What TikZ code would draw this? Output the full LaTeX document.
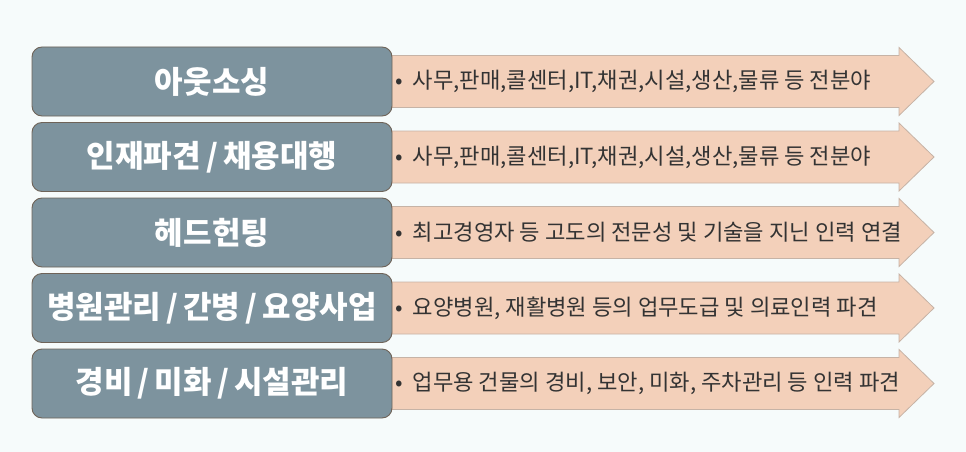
\documentclass[tikz,border=0pt]{standalone}
\usepackage{fontspec}
\newfontfamily\kr{Noto Sans CJK KR}
\definecolor{bgc}{HTML}{F6FBFB}
\definecolor{boxc}{HTML}{7D939E}
\definecolor{boxline}{HTML}{6E6358}
\definecolor{arrc}{HTML}{F3D0BA}
\definecolor{arrline}{HTML}{C6B3A6}
\definecolor{txtc}{HTML}{333333}
\tikzset{
  catbox/.style={draw=boxline, line width=0.9pt, fill=boxc, rounded corners=10pt,
    minimum width=360pt, minimum height=69pt, inner sep=0pt, text=white,
    font=\kr\bfseries\fontsize{31}{34}\selectfont},
  arrowshape/.style={fill=arrc, draw=arrline, line width=0.8pt},
  desc/.style={anchor=west, inner sep=0pt, text=txtc, font=\kr\fontsize{22.2}{24}\selectfont}
}
\begin{document}
\begin{tikzpicture}[x=1pt,y=-1pt]
\fill[bgc] (0,0) rectangle (966,452);
\useasboundingbox (0,0) rectangle (966,452);
\foreach \i/\lab/\txt in {
  0/{아웃소싱}/{사무,판매,콜센터,IT,채권,시설,생산,물류 등 전분야},
  1/{인재파견\,/\,채용대행}/{사무,판매,콜센터,IT,채권,시설,생산,물류 등 전분야},
  2/{헤드헌팅}/{최고경영자 등 고도의 전문성 및 기술을 지닌 인력 연결},
  3/{병원관리\,/\,간병\,/\,요양사업}/{요양병원, 재활병원 등의 업무도급 및 의료인력 파견},
  4/{경비\,/\,미화\,/\,시설관리}/{업무용 건물의 경비, 보안, 미화, 주차관리 등 인력 파견}}{
  \pgfmathsetmacro{\cy}{81.5+75.5*\i}
  \draw[arrowshape] (380,\cy-26) -- (899,\cy-26) -- (899,\cy-34) -- (934,\cy)
     -- (899,\cy+34) -- (899,\cy+26) -- (380,\cy+26) -- cycle;
  \node[catbox] (box\i) at (212,\cy) {\lab};
  \node[desc] (d\i) at (395,\cy) {•\hspace{10pt}\txt};
}
\end{tikzpicture}
\end{document}
